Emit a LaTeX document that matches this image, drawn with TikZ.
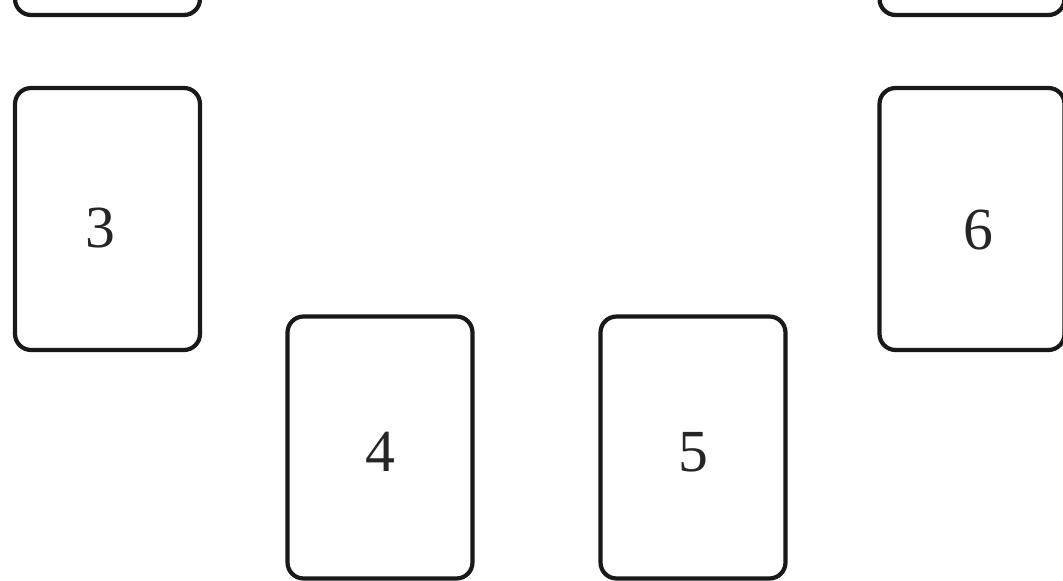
\documentclass[tikz,border=0pt]{standalone}
\usepackage{fontspec}
\setmainfont{Liberation Serif}
\begin{document}
\begin{tikzpicture}[x=0.02cm,y=-0.02cm,
  card/.style={draw=black!90, line width=2.4pt, rounded corners=0.32cm, minimum width=3.7cm, minimum height=5.24cm, inner sep=0pt},
  num/.style={font=\fontsize{34}{40}\selectfont, text=black!85, inner sep=0pt}]
\useasboundingbox (0,0) rectangle (1063,581);
\clip (0,0) rectangle (1063,581);
\fill[white] (0,0) rectangle (1063,581);
\node[card] (c1) at (107.5,-116) {};
\node[card] (c2) at (972,-116) {};
\node[card] (c3) at (107.5,219) {};
\node[card] (c6) at (972,219) {};
\node[card] (c4) at (380,447.5) {};
\node[card] (c5) at (693,447.5) {};
\node[num] (t3) at (100,228) {3};
\node[num] (t4) at (380,452) {4};
\node[num] (t5) at (693,452) {5};
\node[num] (t6) at (978,230) {6};
\end{tikzpicture}
\end{document}
